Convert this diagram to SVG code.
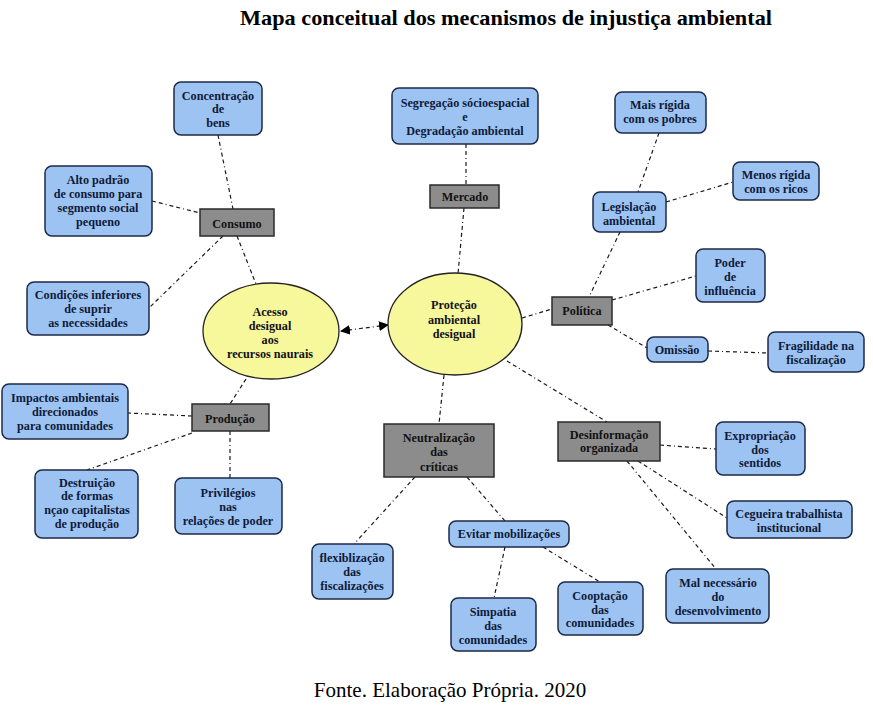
<svg xmlns="http://www.w3.org/2000/svg" width="873" height="709" viewBox="0 0 873 709">
<defs>
<style>
.b{fill:#9dc3f3;stroke:#1c2a48;stroke-width:1.5}
.g{fill:#8c8c8c;stroke:#2a2a2a;stroke-width:1.5}
.e{fill:#f7f79c;stroke:#222;stroke-width:1.3}
.t{font-family:"Liberation Serif",serif;font-weight:bold;font-size:12.2px;fill:#0e1a38;text-anchor:middle}
.tg{font-family:"Liberation Serif",serif;font-weight:bold;font-size:12.2px;fill:#111;text-anchor:middle}
.c line{stroke:#1a1a1a;stroke-width:1.2;stroke-dasharray:4 3 4 3 1 3;fill:none}
</style>
<marker id="ah" viewBox="0 0 10 10" refX="9" refY="5" markerWidth="10" markerHeight="10" orient="auto-start-reverse" markerUnits="userSpaceOnUse">
<path d="M0,0 L10,5 L0,10 z" fill="#000"/>
</marker>
</defs>
<rect width="873" height="709" fill="#fff"/>
<text x="506" y="25" font-family="Liberation Serif,serif" font-weight="bold" font-size="21" text-anchor="middle" fill="#000" textLength="532" lengthAdjust="spacingAndGlyphs">Mapa conceitual dos mecanismos de injustiça ambiental</text>
<text x="450" y="697" font-family="Liberation Serif,serif" font-size="21" text-anchor="middle" fill="#000">Fonte. Elaboração Própria. 2020</text>

<g class="c" id="connectors">
<line x1="218" y1="135" x2="233" y2="209"/>
<line x1="152" y1="201" x2="200" y2="213"/>
<line x1="223" y1="236" x2="150" y2="307"/>
<line x1="237" y1="236" x2="256" y2="284"/>
<line x1="466" y1="144" x2="466" y2="185"/>
<line x1="464" y1="208" x2="458" y2="274"/>
<line x1="522" y1="318" x2="552" y2="309"/>
<line x1="659" y1="133" x2="638" y2="192"/>
<line x1="666" y1="202" x2="733" y2="182"/>
<line x1="620" y1="232" x2="589" y2="297"/>
<line x1="612" y1="300" x2="696" y2="276"/>
<line x1="608" y1="325" x2="647" y2="348"/>
<line x1="708" y1="351" x2="768" y2="353"/>
<line x1="246" y1="379" x2="230" y2="404"/>
<line x1="192" y1="416" x2="128" y2="413"/>
<line x1="192" y1="433" x2="87" y2="470"/>
<line x1="230" y1="431" x2="230" y2="478"/>
<line x1="444" y1="375" x2="439" y2="424"/>
<line x1="415" y1="477" x2="354" y2="544"/>
<line x1="467" y1="477" x2="505" y2="521"/>
<line x1="505" y1="547" x2="494" y2="598"/>
<line x1="543" y1="547" x2="600" y2="582"/>
<line x1="507" y1="361" x2="607" y2="422"/>
<line x1="660" y1="445" x2="716" y2="449"/>
<line x1="638" y1="461" x2="727" y2="518"/>
<line x1="627" y1="461" x2="716" y2="569"/>
<line x1="341" y1="331" x2="388" y2="325" marker-start="url(#ah)" marker-end="url(#ah)"/>
</g>

<g id="acesso"><ellipse class="e" cx="271" cy="331" rx="68" ry="48"/>
<text class="tg"><tspan x="270" y="316">Acesso</tspan><tspan x="270" y="330">desigual</tspan><tspan x="270" y="344">aos</tspan><tspan x="270" y="358">recursos naurais</tspan></text></g>
<g id="protecao"><ellipse class="e" cx="455" cy="324" rx="67" ry="51"/>
<text class="tg"><tspan x="454" y="309">Proteção</tspan><tspan x="454" y="324">ambiental</tspan><tspan x="454" y="338">desigual</tspan></text></g>

<g id="consumo"><rect class="g" x="200" y="209" width="74" height="27"/><text class="tg" x="237" y="228">Consumo</text></g>
<g id="mercado"><rect class="g" x="430" y="185" width="69" height="23"/><text class="tg" x="465" y="201">Mercado</text></g>
<g id="politica"><rect class="g" x="552" y="297" width="60" height="28"/><text class="tg" x="582" y="315">Política</text></g>
<g id="producao"><rect class="g" x="192" y="404" width="77" height="27"/><text class="tg" x="230" y="423">Produção</text></g>
<g id="neutralizacao"><rect class="g" x="384" y="424" width="110" height="53"/>
<text class="tg"><tspan x="439" y="442">Neutralização</tspan><tspan x="439" y="456">das</tspan><tspan x="439" y="471">críticas</tspan></text></g>
<g id="desinformacao"><rect class="g" x="558" y="422" width="102" height="39"/>
<text class="tg"><tspan x="609" y="439">Desinformação</tspan><tspan x="609" y="452">organizada</tspan></text></g>

<g id="concentracao"><rect class="b" x="174" y="82" width="88" height="53" rx="7"/>
<text class="t"><tspan x="218" y="100">Concentração</tspan><tspan x="218" y="113">de</tspan><tspan x="218" y="127">bens</tspan></text></g>
<g id="alto"><rect class="b" x="45" y="166" width="107" height="70" rx="7"/>
<text class="t"><tspan x="98" y="184">Alto padrão</tspan><tspan x="98" y="198">de consumo para</tspan><tspan x="98" y="212">segmento social</tspan><tspan x="98" y="226">pequeno</tspan></text></g>
<g id="condicoes"><rect class="b" x="27" y="282" width="122" height="53" rx="7"/>
<text class="t"><tspan x="88" y="299">Condições inferiores</tspan><tspan x="88" y="313">de suprir</tspan><tspan x="88" y="327">as necessidades</tspan></text></g>
<g id="segregacao"><rect class="b" x="392" y="88" width="146" height="56" rx="7"/>
<text class="t"><tspan x="465" y="107">Segregação sócioespacial</tspan><tspan x="465" y="121">e</tspan><tspan x="465" y="135">Degradação ambiental</tspan></text></g>
<g id="mais"><rect class="b" x="615" y="92" width="91" height="41" rx="7"/>
<text class="t"><tspan x="660" y="109">Mais rígida</tspan><tspan x="660" y="123">com os pobres</tspan></text></g>
<g id="menos"><rect class="b" x="733" y="162" width="86" height="38" rx="7"/>
<text class="t"><tspan x="776" y="179">Menos rígida</tspan><tspan x="776" y="193">com os ricos</tspan></text></g>
<g id="legislacao"><rect class="b" x="593" y="192" width="73" height="40" rx="7"/>
<text class="t"><tspan x="629" y="211">Legislação</tspan><tspan x="629" y="225">ambiental</tspan></text></g>
<g id="poder"><rect class="b" x="696" y="249" width="69" height="53" rx="7"/>
<text class="t"><tspan x="730" y="267">Poder</tspan><tspan x="730" y="281">de</tspan><tspan x="730" y="295">influência</tspan></text></g>
<g id="omissao"><rect class="b" x="647" y="337" width="61" height="25" rx="7"/>
<text class="t" x="677" y="354">Omissão</text></g>
<g id="fragilidade"><rect class="b" x="768" y="332" width="96" height="40" rx="7"/>
<text class="t"><tspan x="816" y="350">Fragilidade na</tspan><tspan x="816" y="364">fiscalização</tspan></text></g>
<g id="impactos"><rect class="b" x="2" y="384" width="126" height="55" rx="7"/>
<text class="t"><tspan x="65" y="402">Impactos ambientais</tspan><tspan x="65" y="416">direcionados</tspan><tspan x="65" y="430">para comunidades</tspan></text></g>
<g id="destruicao"><rect class="b" x="35" y="470" width="103" height="68" rx="7"/>
<text class="t"><tspan x="87" y="487">Destruição</tspan><tspan x="87" y="500">de formas</tspan><tspan x="87" y="514">nçao capitalistas</tspan><tspan x="87" y="528">de produção</tspan></text></g>
<g id="privilegios"><rect class="b" x="175" y="478" width="107" height="56" rx="7"/>
<text class="t"><tspan x="228" y="497">Privilégios</tspan><tspan x="228" y="511">nas</tspan><tspan x="228" y="525">relações de poder</tspan></text></g>
<g id="flexiblizacao"><rect class="b" x="312" y="544" width="81" height="55" rx="7"/>
<text class="t"><tspan x="352" y="562">flexiblização</tspan><tspan x="352" y="576">das</tspan><tspan x="352" y="590">fiscalizações</tspan></text></g>
<g id="evitar"><rect class="b" x="449" y="521" width="120" height="26" rx="7"/>
<text class="t" x="509" y="538">Evitar mobilizações</text></g>
<g id="simpatia"><rect class="b" x="451" y="598" width="85" height="53" rx="7"/>
<text class="t"><tspan x="493" y="616">Simpatia</tspan><tspan x="493" y="630">das</tspan><tspan x="493" y="644">comunidades</tspan></text></g>
<g id="cooptacao"><rect class="b" x="558" y="582" width="85" height="53" rx="7"/>
<text class="t"><tspan x="600" y="600">Cooptação</tspan><tspan x="600" y="614">das</tspan><tspan x="600" y="627">comunidades</tspan></text></g>
<g id="expropriacao"><rect class="b" x="716" y="422" width="89" height="53" rx="7"/>
<text class="t"><tspan x="760" y="440">Expropriação</tspan><tspan x="760" y="454">dos</tspan><tspan x="760" y="467">sentidos</tspan></text></g>
<g id="cegueira"><rect class="b" x="727" y="501" width="125" height="37" rx="7"/>
<text class="t"><tspan x="789" y="518">Cegueira trabalhista</tspan><tspan x="789" y="532">institucional</tspan></text></g>
<g id="mal"><rect class="b" x="666" y="569" width="103" height="54" rx="7"/>
<text class="t"><tspan x="718" y="587">Mal necessário</tspan><tspan x="718" y="601">do</tspan><tspan x="718" y="615">desenvolvimento</tspan></text></g>
</svg>
